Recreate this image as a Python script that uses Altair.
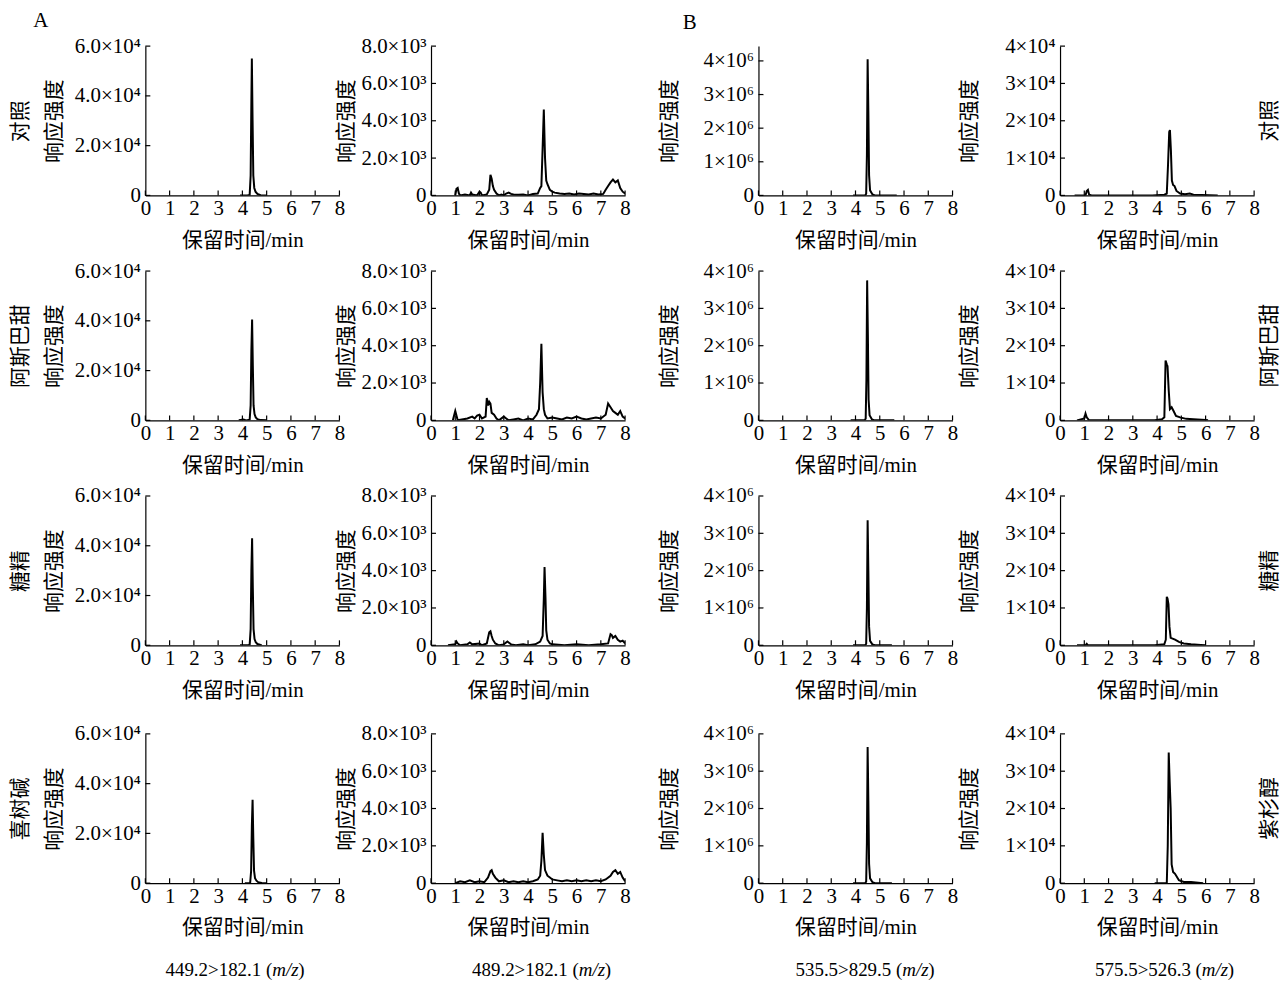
import altair as alt
import pandas as pd

FONT = "Liberation Serif, Noto Sans CJK SC"

LEFT_LABELS = ["对照", "阿斯巴甜", "糖精", "喜树碱"]
RIGHT_LABELS = ["对照", "阿斯巴甜", "糖精", "紫杉醇"]
PANEL_LETTERS = ["A", "B"]
TRANSITIONS = ["449.2>182.1 (", "489.2>182.1 (", "535.5>829.5 (", "575.5>526.3 ("]
MZ = "m/z"
Y_TITLE = "响应强度"
X_TITLE = "保留时间/min"
X_TICKS = [0, 1, 2, 3, 4, 5, 6, 7, 8]
Y_TICKS = [
    [0, 20000, 40000, 60000],
    [0, 2000, 4000, 6000, 8000],
    [0, 1000000, 2000000, 3000000, 4000000],
    [0, 10000, 20000, 30000, 40000],
]
Y_TICK_LABELS = [
    ["0", "2.0×10⁴", "4.0×10⁴", "6.0×10⁴"],
    ["0", "2.0×10³", "4.0×10³", "6.0×10³", "8.0×10³"],
    ["0", "1×10⁶", "2×10⁶", "3×10⁶", "4×10⁶"],
    ["0", "1×10⁴", "2×10⁴", "3×10⁴", "4×10⁴"],
]
Y_MAX = [
    [60000, 8000, 4440000, 40000],
    [60000, 8000, 4000000, 40000],
    [60000, 8000, 4000000, 40000],
    [60000, 8000, 4000000, 40000],
]

# ---- chromatogram traces: (retention time / min, response) ----
C1R1 = [(3.90, 0), (4.20, 0), (4.30, 200), (4.34, 8000), (4.37, 38000), (4.39, 55000), (4.42, 30000),
        (4.45, 8000), (4.49, 3000), (4.54, 1500), (4.62, 600), (4.75, 100), (5.00, 0)]
C1R2 = [(3.85, 0), (4.05, 300), (4.15, 0), (4.30, 300), (4.34, 6000), (4.37, 28000), (4.40, 40500),
        (4.43, 22000), (4.46, 6000), (4.50, 2500), (4.55, 1200), (4.62, 500), (4.75, 100), (5.00, 0)]
C1R3 = [(3.90, 0), (4.25, 0), (4.30, 200), (4.34, 6500), (4.37, 30000), (4.40, 43000), (4.43, 23000),
        (4.46, 6500), (4.50, 2500), (4.55, 1200), (4.62, 500), (4.75, 100), (4.80, 0)]
C1R4 = [(4.10, 0), (4.28, 0), (4.32, 150), (4.36, 5000), (4.39, 23000), (4.42, 33500), (4.45, 18000),
        (4.48, 5000), (4.52, 2000), (4.58, 1000), (4.65, 400), (4.80, 100), (5.00, 0)]

C2R1 = [(1.00, 0), (1.05, 350), (1.10, 400), (1.15, 100), (1.20, 0), (1.40, 50), (1.60, 0), (1.65, 150),
        (1.70, 50), (1.90, 0), (2.00, 200), (2.05, 150), (2.10, 0), (2.30, 50), (2.40, 300), (2.45, 1100),
        (2.50, 900), (2.55, 500), (2.60, 300), (2.70, 100), (2.80, 0), (2.90, 50), (3.00, 0), (3.10, 100),
        (3.20, 150), (3.30, 80), (3.40, 50), (3.60, 30), (3.80, 50), (4.00, 0), (4.20, 80), (4.40, 100),
        (4.50, 400), (4.55, 500), (4.60, 2500), (4.65, 4600), (4.70, 2000), (4.75, 800), (4.80, 600),
        (4.90, 300), (5.00, 200), (5.10, 150), (5.30, 100), (5.50, 80), (5.70, 100), (5.90, 50), (6.10, 100),
        (6.30, 80), (6.50, 50), (6.70, 100), (6.90, 50), (7.10, 80), (7.20, 300), (7.30, 500), (7.40, 700),
        (7.50, 850), (7.60, 700), (7.70, 800), (7.80, 400), (7.90, 200), (8.00, 100)]
C2R2 = [(0.90, 0), (1.00, 500), (1.10, 0), (1.50, 100), (1.70, 200), (1.80, 100), (1.90, 250), (2.00, 300),
        (2.10, 100), (2.25, 200), (2.30, 1200), (2.35, 800), (2.40, 1000), (2.45, 900), (2.50, 400),
        (2.60, 300), (2.70, 100), (2.80, 0), (3.00, 200), (3.10, 100), (3.20, 0), (3.40, 50), (3.60, 100),
        (3.80, 0), (4.00, 100), (4.20, 50), (4.35, 300), (4.45, 600), (4.50, 2000), (4.55, 4100), (4.60, 1500),
        (4.65, 600), (4.70, 300), (4.80, 100), (5.00, 150), (5.20, 100), (5.40, 50), (5.60, 150), (5.80, 100),
        (6.00, 200), (6.20, 100), (6.40, 50), (6.60, 100), (6.80, 150), (7.00, 100), (7.20, 300), (7.30, 900),
        (7.40, 700), (7.50, 500), (7.60, 400), (7.70, 300), (7.80, 500), (7.90, 200), (8.00, 100)]
C2R3 = [(0.70, 0), (1.00, 50), (1.05, 200), (1.10, 100), (1.20, 0), (1.50, 50), (1.60, 150), (1.70, 50),
        (2.00, 100), (2.10, 0), (2.30, 100), (2.40, 700), (2.45, 750), (2.50, 500), (2.55, 300), (2.65, 100),
        (2.80, 0), (3.00, 50), (3.15, 200), (3.20, 150), (3.30, 50), (3.50, 0), (3.80, 50), (4.00, 0),
        (4.30, 50), (4.50, 200), (4.60, 500), (4.65, 2500), (4.68, 4200), (4.72, 2500), (4.75, 800),
        (4.80, 300), (4.90, 100), (5.00, 50), (5.50, 0), (6.00, 50), (6.50, 0), (7.00, 50), (7.30, 100),
        (7.40, 600), (7.45, 550), (7.50, 400), (7.55, 450), (7.60, 500), (7.70, 300), (7.80, 200),
        (7.90, 250), (8.00, 100)]
C2R4 = [(1.00, 0), (1.20, 100), (1.40, 50), (1.60, 150), (1.80, 50), (2.00, 100), (2.20, 50), (2.35, 300),
        (2.45, 650), (2.50, 700), (2.55, 500), (2.65, 300), (2.80, 100), (3.00, 150), (3.20, 50), (3.40, 100),
        (3.60, 50), (3.80, 100), (4.00, 50), (4.20, 100), (4.40, 200), (4.50, 400), (4.55, 1200), (4.60, 2700),
        (4.65, 1500), (4.70, 700), (4.80, 400), (4.90, 300), (5.00, 200), (5.20, 150), (5.40, 100), (5.60, 150),
        (5.80, 100), (6.00, 150), (6.20, 100), (6.40, 150), (6.60, 100), (6.80, 150), (7.00, 100), (7.20, 200),
        (7.40, 400), (7.50, 600), (7.60, 700), (7.70, 500), (7.80, 600), (7.90, 300), (8.00, 100)]

C3R1 = [(3.90, 0), (4.40, 0), (4.44, 50000), (4.47, 1200000), (4.50, 4050000), (4.53, 2500000),
        (4.56, 600000), (4.60, 150000), (4.70, 30000), (4.80, 0), (5.70, 0)]
C3R2 = [(3.80, 0), (4.38, 0), (4.42, 50000), (4.45, 1100000), (4.48, 3750000), (4.51, 2300000),
        (4.54, 550000), (4.58, 140000), (4.68, 25000), (4.78, 0), (5.60, 0)]
C3R3 = [(3.90, 0), (4.40, 0), (4.44, 40000), (4.47, 1000000), (4.50, 3350000), (4.53, 2000000),
        (4.56, 500000), (4.60, 120000), (4.70, 20000), (4.80, 0), (5.50, 0)]
C3R4 = [(3.90, 0), (4.40, 0), (4.44, 45000), (4.47, 1100000), (4.50, 3650000), (4.53, 2200000),
        (4.56, 520000), (4.60, 130000), (4.70, 25000), (4.80, 0), (5.50, 0)]

C4R1 = [(0.60, 0), (1.05, 0), (1.10, 1200), (1.15, 1500), (1.20, 200), (1.30, 0), (3.80, 0), (4.30, 200),
        (4.40, 500), (4.45, 8000), (4.50, 17000), (4.53, 17500), (4.57, 12000), (4.61, 4000), (4.66, 2800),
        (4.72, 2500), (4.80, 1200), (4.95, 500), (5.15, 300), (5.35, 500), (5.50, 200), (6.50, 0)]
C4R2 = [(0.70, 0), (1.00, 500), (1.05, 1800), (1.10, 800), (1.20, 0), (3.90, 0), (4.20, 300), (4.30, 800),
        (4.35, 16000), (4.40, 15000), (4.43, 14500), (4.48, 8000), (4.53, 3000), (4.60, 3500), (4.68, 2500),
        (4.78, 1200), (4.95, 800), (5.20, 400), (5.50, 300), (6.00, 100), (6.10, 0)]
C4R3 = [(0.70, 0), (1.05, 0), (1.10, 400), (1.15, 0), (3.90, 0), (4.30, 300), (4.36, 1500), (4.40, 13000),
        (4.43, 12500), (4.47, 11000), (4.51, 5000), (4.56, 2000), (4.64, 1800), (4.74, 1500), (4.90, 900),
        (5.10, 500), (5.40, 300), (5.80, 100), (6.00, 0)]
C4R4 = [(3.90, 0), (4.40, 0), (4.44, 10000), (4.48, 35000), (4.52, 27000), (4.56, 20000), (4.60, 5000),
        (4.66, 3000), (4.74, 2500), (4.90, 800), (5.10, 300), (5.40, 300), (5.90, 0)]

TRACES = [
    [C1R1, C2R1, C3R1, C4R1],
    [C1R2, C2R2, C3R2, C4R2],
    [C1R3, C2R3, C3R3, C4R3],
    [C1R4, C2R4, C3R4, C4R4],
]

# ---- layout (pixels) ----
W, H = 195, 150
TITLE_X = [-115, -75, -79, -81]
SPACER_R = [0, 44, 16, 0]
BOTTOM_CX = [90.5, 111.5, 107.5, 105.5]
LABEL_SIZE = 21
TITLE_SIZE = 21


def label_expr(vals, labels):
    parts = [f"datum.value == {v} ? '{l}'" for v, l in zip(vals, labels)]
    return " : ".join(parts) + " : ''"


ONE = pd.DataFrame({"k": [0]})


def text_layer(txt, x, y, size=21, align="center", style="normal", angle=0):
    return alt.Chart(ONE).mark_text(text=txt, font=FONT, fontSize=size, align=align, baseline="middle",
                                    fontStyle=style, angle=angle, color="black").encode(
        x=alt.value(x), y=alt.value(y))


def panel(r, c):
    data = pd.DataFrame(TRACES[r][c], columns=["t", "v"])
    xs = alt.Scale(domain=[0, 8], nice=False, zero=False)
    ys = alt.Scale(domain=[0, Y_MAX[r][c]], nice=False)
    xaxis = alt.Axis(values=X_TICKS, format="d", title=X_TITLE, titleX=W / 2, titleY=45,
                     titleBaseline="middle", labelFlush=False, labelOverlap=False, ticks=False,
                     tickSize=0, labelPadding=2)
    ytitle = [LEFT_LABELS[r], Y_TITLE] if c == 0 else Y_TITLE
    yaxis = alt.Axis(values=Y_TICKS[c], labelExpr=label_expr(Y_TICKS[c], Y_TICK_LABELS[c]),
                     title=ytitle, titleX=TITLE_X[c], titleY=H / 2, titleAlign="center",
                     titleBaseline="bottom", titleAngle=270, titleLineHeight=34,
                     labelFlush=False, labelOverlap=False, ticks=False, tickSize=0, labelPadding=5)
    X = alt.X("t:Q", scale=xs, axis=xaxis)
    Y = alt.Y("v:Q", scale=ys, axis=yaxis)
    layers = [
        alt.Chart(data).mark_line(color="black", strokeWidth=2, clip=True).encode(x=X, y=Y),
        alt.Chart(pd.DataFrame({"t": X_TICKS})).mark_rule(color="black", strokeWidth=1.2).encode(
            x=X, y=alt.value(H), y2=alt.value(H - 5)),
        alt.Chart(pd.DataFrame({"v": Y_TICKS[c]})).mark_rule(color="black", strokeWidth=1.2).encode(
            y=Y, x=alt.value(0), x2=alt.value(5)),
    ]
    if SPACER_R[c]:
        layers.append(alt.Chart(ONE).mark_rule(strokeOpacity=0).encode(
            x=alt.value(W), x2=alt.value(W + SPACER_R[c]), y=alt.value(H)))
    if c == 3:
        layers.append(text_layer(RIGHT_LABELS[r], W + 16, H / 2, angle=270))
    if r == 0 and c == 0:
        layers.append(text_layer(PANEL_LETTERS[0], -105, -25))
    if r == 0 and c == 2:
        layers.append(text_layer(PANEL_LETTERS[1], -69, -23))
    if r == 3:
        if c == 0:
            layers.append(alt.Chart(ONE).mark_rule(strokeOpacity=0).encode(
                x=alt.value(0), y=alt.value(-24), y2=alt.value(0)))
        ax = BOTTOM_CX[c] + 37
        layers.append(text_layer(TRANSITIONS[c], ax, H + 87, size=19, align="right"))
        layers.append(text_layer(MZ, ax, H + 87, size=19, align="left", style="italic"))
        layers.append(text_layer(")", ax + 26, H + 87, size=19, align="left"))
    return alt.layer(*layers).properties(width=W, height=H)


panels = [panel(r, c) for r in range(4) for c in range(4)]

chart = alt.concat(*panels, columns=4, spacing={"row": 10, "column": -10}, align="each").properties(
    padding={"left": 2, "top": 0, "right": 0, "bottom": 0}
).configure_view(stroke=None).configure_axis(
    domainColor="black", domainWidth=1.2, labelColor="black", titleColor="black",
    labelFont=FONT, titleFont=FONT, labelFontSize=LABEL_SIZE, titleFontSize=TITLE_SIZE,
    titleFontWeight="normal", grid=False
)

chart.save("out.html", embed_options={"renderer": "svg", "actions": False})
